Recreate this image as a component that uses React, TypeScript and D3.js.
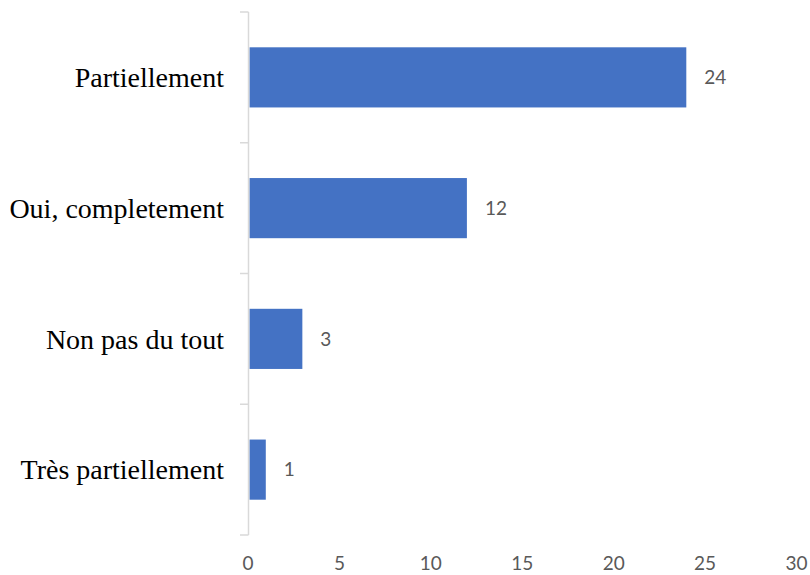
import React from "react";
import * as d3 from "d3";

const categories = ["Partiellement", "Oui, completement", "Non pas du tout", "Très partiellement"];
const values = [24, 12, 3, 1];
const xTicks = [0, 5, 10, 15, 20, 25, 30];

export default function App() {
  const width = 810;
  const height = 575;
  const x = d3.scaleLinear().domain([0, 30]).range([247.5, 796]);
  const y = d3.scaleBand<string>().domain(categories).range([12, 535]).paddingInner(0.54).paddingOuter(0.27);
  const boundaries = d3.range(categories.length + 1).map((i) => 12 + (i * (535 - 12)) / categories.length);
  const barStart = 249.5;
  return (
    <svg width={width} height={height} style={{ position: "absolute", left: 0, top: 0 }}>
      <rect width={width} height={height} fill="#fff" />
      {categories.map((c, i) => (
        <rect key={c} x={barStart} y={y(c)!} width={x(values[i]) - barStart} height={y.bandwidth()} fill="#4472C4" />
      ))}
      <line x1={248.5} x2={248.5} y1={12} y2={535} stroke="#d9d9d9" strokeWidth={1.5} />
      {boundaries.map((b, i) => (
        <line key={i} x1={240} x2={248.5} y1={b} y2={b} stroke="#d9d9d9" strokeWidth={1.5} />
      ))}
      {categories.map((c, i) => (
        <text key={c} x={224} y={y(c)! + y.bandwidth() / 2} dy="0.35em" textAnchor="end"
          fontFamily="'Liberation Serif', serif" fontSize={28} fill="#000">{c}</text>
      ))}
      {categories.map((c, i) => (
        <text key={c + "v"} x={x(values[i]) + 18} y={y(c)! + y.bandwidth() / 2} dy="0.35em"
          fontFamily="Lato, 'Open Sans', sans-serif" fontSize={19} fill="#595959">{values[i]}</text>
      ))}
      {xTicks.map((t) => (
        <text key={t} x={x(t) + 0.5} y={563} dy="0.35em" textAnchor="middle"
          fontFamily="Lato, 'Open Sans', sans-serif" fontSize={19} fill="#595959">{t}</text>
      ))}
    </svg>
  );
}
